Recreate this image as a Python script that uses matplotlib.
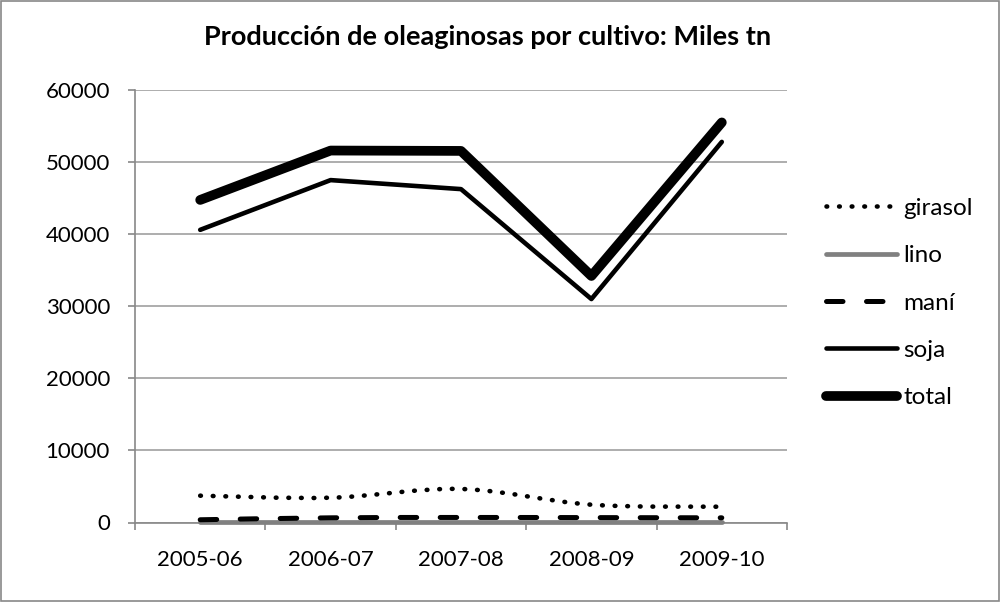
import numpy as np
import matplotlib
matplotlib.use("Agg")
import matplotlib.pyplot as plt
from matplotlib.path import Path
from matplotlib.patches import PathPatch, Rectangle
from matplotlib.lines import Line2D

plt.rcParams['font.family'] = ['Lato', 'DejaVu Sans']

campanas = ["2005-06", "2006-07", "2007-08", "2008-09", "2009-10"]
girasol = [3720, 3440, 4650, 2470, 2190]
lino = [50, 50, 50, 50, 50]
mani = [380, 650, 700, 680, 650]
soja = [40600, 47500, 46250, 31000, 52800]
total = [44750, 51600, 51550, 34200, 55500]


def smooth_path(x, y):
    # curva tipo Excel "linea suavizada" (bezier por tramos)
    p = np.column_stack([x, y]).astype(float)
    ext = np.vstack([p[0], p, p[-1]])
    verts = [p[0]]
    codes = [Path.MOVETO]
    for i in range(len(p) - 1):
        c1 = ext[i + 1] + (ext[i + 2] - ext[i]) / 6
        c2 = ext[i + 2] - (ext[i + 3] - ext[i + 1]) / 6
        verts += [c1, c2, p[i + 1]]
        codes += [Path.CURVE4] * 3
    return Path(verts, codes)


fig = plt.figure(figsize=(10.01, 6.02), dpi=100)
ax = fig.add_axes([135 / 1001, 1 - 522.5 / 602, (787 - 135) / 1001, (522.5 - 90) / 602])
x = np.arange(len(campanas))

dot_style = (0, (0.15, 2.6))
dash_style = (0, (3.3, 4.7))

ax.add_patch(PathPatch(smooth_path(x, girasol), fill=False, color="black", lw=3.3,
                       linestyle=dot_style, capstyle="round", zorder=3))
ax.plot(x, lino, color="#808080", lw=3.4, solid_capstyle="round", zorder=3, clip_on=False)
ax.add_patch(PathPatch(smooth_path(x, mani), fill=False, color="black", lw=3.6,
                       linestyle=dash_style, capstyle="round", zorder=4, clip_on=False))
ax.plot(x, soja, color="black", lw=3.3, solid_capstyle="round", zorder=5)
ax.plot(x, total, color="black", lw=7, solid_capstyle="round", zorder=6)

ax.set_xlim(-0.5, 4.5)
ax.set_ylim(0, 60000)
ax.set_yticks(np.arange(0, 60001, 10000))
ax.set_xticks(x)
ax.set_xticklabels(campanas)
ax.set_xticks(np.arange(-0.5, 4.6, 1), minor=True)
ax.tick_params(axis="x", which="major", length=0, pad=20, labelsize=16)
ax.tick_params(axis="x", which="minor", length=5, color="#888888", width=1.2)
ax.tick_params(axis="y", length=5, color="#888888", width=1.2, pad=13, labelsize=16)
ax.grid(axis="y", color="#a0a0a0", lw=1.2)
ax.set_axisbelow(True)
for s in ["top", "right"]:
    ax.spines[s].set_visible(False)
for s in ["left", "bottom"]:
    ax.spines[s].set_color("#888888")
    ax.spines[s].set_linewidth(1.2)

handles = [
    Line2D([], [], color="black", lw=3.3, linestyle=dot_style, dash_capstyle="round"),
    Line2D([], [], color="#808080", lw=3.4, solid_capstyle="round"),
    Line2D([], [], color="black", lw=3.6, linestyle=dash_style, dash_capstyle="round"),
    Line2D([], [], color="black", lw=3.3, solid_capstyle="round"),
    Line2D([], [], color="black", lw=7, solid_capstyle="round"),
]
fig.legend(handles, ["girasol", "lino", "maní", "soja", "total"], loc="center left",
           bbox_to_anchor=(826 / 1001, 1 - 303 / 602), frameon=False, fontsize=17.5,
           borderpad=0, borderaxespad=0,
           handlelength=2.92, handletextpad=0.25, labelspacing=1.08)

fig.text(488 / 1001, 1 - 45 / 602, "Producción de oleaginosas por cultivo: Miles tn",
         ha="center", va="baseline", fontsize=19.5, fontweight="bold")

fig.patches.append(Rectangle((0.001, 0.001), 0.997, 0.997, transform=fig.transFigure,
                             fill=False, edgecolor="#888888", lw=1.2))

fig.savefig("out.png", dpi=100)
